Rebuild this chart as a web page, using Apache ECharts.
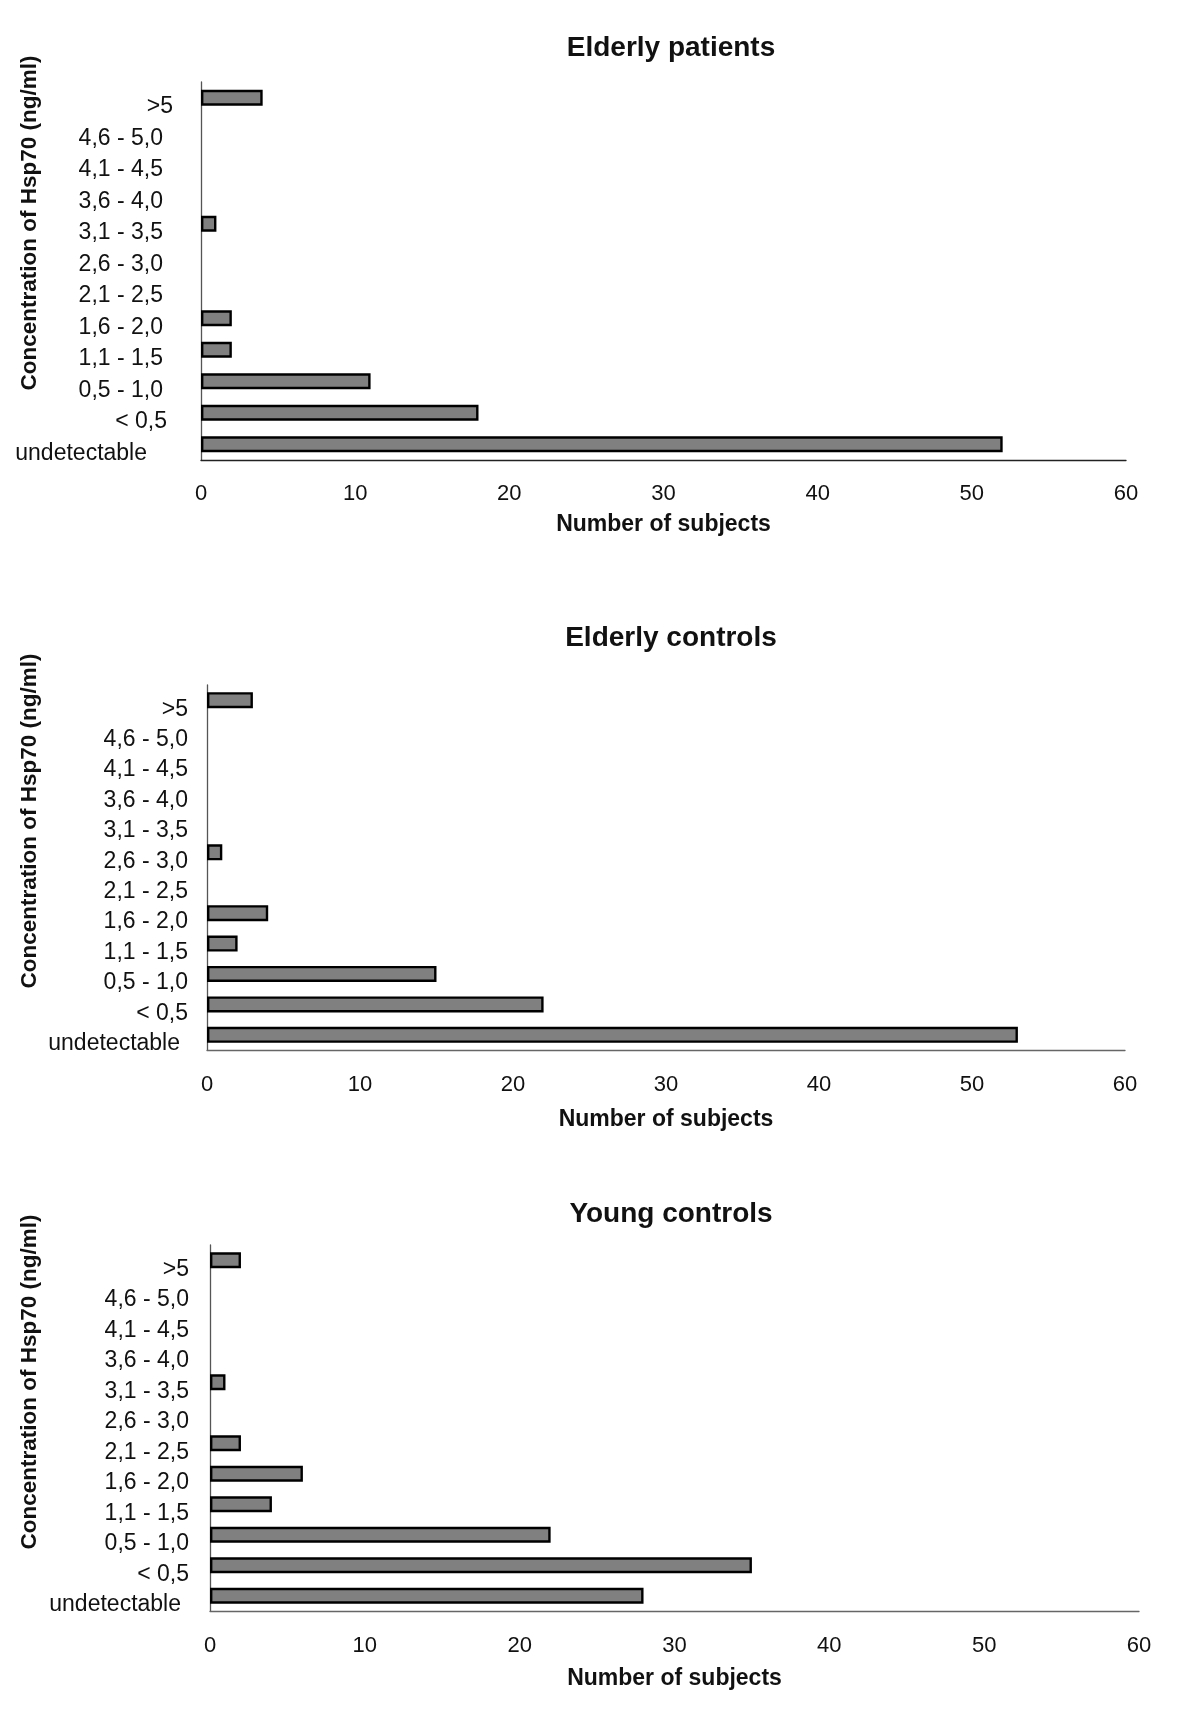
<!DOCTYPE html>
<html>
<head>
<meta charset="utf-8">
<script src="https://cdn.jsdelivr.net/npm/echarts@6/dist/echarts.min.js"></script>
<style>
html,body{margin:0;padding:0;background:#fff;}
#c{width:1200px;height:1726px;}
</style>
</head>
<body>
<div id="c"></div>
<script>
// ---- data ----
const categories = ['undetectable', '< 0,5', '0,5 - 1,0', '1,1 - 1,5', '1,6 - 2,0', '2,1 - 2,5', '2,6 - 3,0', '3,1 - 3,5', '3,6 - 4,0', '4,1 - 4,5', '4,6 - 5,0', '>5'];
const elderlyPatients = [52, 18, 11, 2, 2, 0, 0, 1, 0, 0, 0, 4];
const elderlyControls = [53, 22, 15, 2, 4, 0, 1, 0, 0, 0, 0, 3];
const youngControls = [28, 35, 22, 4, 6, 2, 0, 1, 0, 0, 0, 2];
const titles = ['Elderly patients', 'Elderly controls', 'Young controls'];
const xTicks = [0, 10, 20, 30, 40, 50, 60];
const xName = 'Number of subjects';
const yName = 'Concentration of Hsp70 (ng/ml)';

// ---- layout ----
const FONT = "'Liberation Sans', Arial, sans-serif";
const panels = [
  {data: elderlyPatients, left: 201, width: 925, top: 82, height: 378, titleY: 29, yNameY: 223, labelMargin: 28, xMargin: 23, nameGap: 53, pad: {gt: 0, range: 10, lt: 6, und: 26}, xColor: '#222'},
  {data: elderlyControls, left: 207, width: 918, top: 685, height: 365, titleY: 619, yNameY: 821, labelMargin: 19, xMargin: 24, nameGap: 58, pad: {gt: 0, range: 0, lt: 0, und: 8}, xColor: '#666'},
  {data: youngControls, left: 210, width: 929, top: 1245, height: 366, titleY: 1195, yNameY: 1382, labelMargin: 21, xMargin: 24, nameGap: 56, pad: {gt: 0, range: 0, lt: 0, und: 8}, xColor: '#666'}
];

function labelKey(v) {
  if (v === 'undetectable') return 'und';
  if (v.indexOf('>') === 0) return 'gt';
  if (v.indexOf('<') === 0) return 'lt';
  return 'range';
}

const option = {
  backgroundColor: '#fff',
  animation: false,
  title: [],
  grid: [],
  xAxis: [],
  yAxis: [],
  series: [],
  graphic: []
};

panels.forEach((p, i) => {
  option.title.push({
    text: titles[i],
    left: 666, top: p.titleY,
    textAlign: 'center',
    textStyle: {fontFamily: FONT, fontSize: 28, fontWeight: 'bold', color: '#111'}
  });
  option.grid.push({left: p.left, width: p.width, top: p.top, height: p.height, containLabel: false});
  option.xAxis.push({
    type: 'value', gridIndex: i,
    min: xTicks[0], max: xTicks[xTicks.length - 1], interval: xTicks[1] - xTicks[0],
    name: xName, nameLocation: 'middle', nameGap: p.nameGap,
    nameTextStyle: {fontFamily: FONT, fontSize: 23, fontWeight: 'bold', color: '#111'},
    axisLine: {show: true, lineStyle: {color: p.xColor, width: 1.3}},
    axisTick: {show: false},
    splitLine: {show: false},
    axisLabel: {margin: p.xMargin, fontFamily: FONT, fontSize: 22, color: '#111'}
  });
  const rich = {};
  Object.keys(p.pad).forEach(k => {
    rich[k] = {fontFamily: FONT, fontSize: 23, color: '#111', padding: [18, p.pad[k], 0, 0], align: 'right'};
  });
  option.yAxis.push({
    type: 'category', gridIndex: i, data: categories,
    axisLine: {show: true, lineStyle: {color: '#555', width: 1.3}},
    axisTick: {show: false},
    splitLine: {show: false},
    axisLabel: {
      margin: p.labelMargin, interval: 0,
      formatter: v => '{' + labelKey(v) + '|' + v + '}',
      rich: rich
    }
  });
  option.series.push({
    type: 'bar', xAxisIndex: i, yAxisIndex: i,
    barWidth: 16,
    data: p.data.map(v => v === 0 ? {value: v, itemStyle: {borderWidth: 0}} : v),
    itemStyle: {color: '#808080', borderColor: '#000', borderWidth: 2.4}
  });
  option.graphic.push({
    type: 'text', x: 30, y: p.yNameY, rotation: Math.PI / 2,
    style: {text: yName, fontFamily: FONT, fontSize: 22.5, fontWeight: 'bold', fill: '#111', align: 'center', verticalAlign: 'middle'}
  });
});

const chart = echarts.init(document.getElementById('c'), null, {renderer: 'canvas'});
chart.setOption(option);
</script>
</body>
</html>
